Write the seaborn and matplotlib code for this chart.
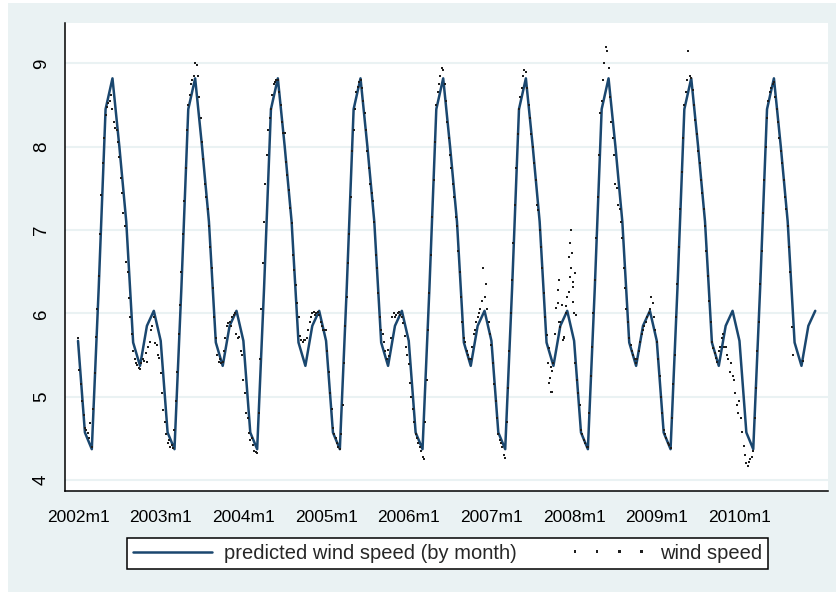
import numpy as np
import pandas as pd
import seaborn as sns
import matplotlib.pyplot as plt
from matplotlib.patches import Rectangle

# predicted wind speed, one value per calendar month (Jan..Dec)
pred_by_month = [5.67, 4.57, 4.37, 6.30, 8.45, 8.82, 8.00, 7.10, 5.65, 5.37, 5.85, 6.03]
years = [2002, 2003, 2004, 2005, 2006, 2007, 2008, 2009, 2010]
n_months = 108

# observed wind speed, 5 readings per month, Jan..Dec
wind_2002 = [5.70, 5.32, 5.15, 4.95, 4.78,  4.62, 4.60, 4.56, 4.50, 4.68,
             4.40, 4.85, 5.28, 5.72, 6.05,  6.45, 6.95, 7.42, 7.80, 8.10,
             8.38, 8.48, 8.52, 8.55, 8.62,  8.45, 8.30, 8.22, 8.20, 8.05,
             7.88, 7.62, 7.45, 7.20, 7.05,  6.62, 6.50, 6.18, 5.95, 5.75,
             5.55, 5.45, 5.40, 5.38, 5.35,  5.33, 5.40, 5.45, 5.43, 5.52,
             5.42, 5.60, 5.65, 5.80, 5.85,  5.95, 5.64, 5.62, 5.50, 5.46]
wind_2003 = [5.28, 5.05, 4.84, 4.70, 4.55,  4.45, 4.48, 4.40, 4.42, 4.38,
             4.60, 4.95, 5.30, 5.75, 6.10,  6.50, 6.95, 7.35, 7.75, 8.20,
             8.50, 8.62, 8.75, 8.80, 8.85,  9.00, 8.98, 8.85, 8.60, 8.35,
             8.05, 7.85, 7.55, 7.40, 7.25,  7.05, 6.80, 6.55, 6.30, 5.95,
             5.70, 5.50, 5.42, 5.45, 5.40,  5.42, 5.55, 5.70, 5.85, 5.88,
             5.90, 5.85, 5.95, 5.98, 6.00,  5.75, 5.70, 5.72, 5.55, 5.50]
wind_2004 = [5.20, 5.05, 4.80, 4.75, 4.56,  4.48, 4.50, 4.42, 4.35, 4.34,
             4.32, 4.80, 5.45, 6.05, 6.60,  7.10, 7.55, 7.90, 8.20, 8.35,
             8.45, 8.62, 8.75, 8.78, 8.80,  8.80, 8.65, 8.50, 8.30, 8.16,
             8.16, 7.82, 7.66, 7.48, 7.26,  7.08, 6.70, 6.52, 6.34, 6.12,
             5.96, 5.73, 5.68, 5.66, 5.68,  5.68, 5.70, 5.80, 5.90, 5.95,
             6.00, 6.02, 5.98, 6.00, 6.02,  5.98, 5.90, 5.85, 5.80, 5.80]
wind_2005 = [5.80, 5.55, 5.30, 5.05, 4.85,  4.62, 4.55, 4.50, 4.45, 4.40,
             4.37, 4.55, 4.90, 5.40, 5.85,  6.20, 6.60, 6.95, 7.40, 7.95,
             8.20, 8.45, 8.65, 8.72, 8.78,  8.80, 8.70, 8.55, 8.40, 8.20,
             7.95, 7.75, 7.55, 7.45, 7.35,  7.10, 6.70, 6.55, 6.25, 5.95,
             5.80, 5.75, 5.65, 5.55, 5.45,  5.56, 5.49, 5.71, 5.95, 6.00,
             5.95, 5.98, 6.00, 6.02, 5.98,  5.95, 5.88, 5.73, 5.60, 5.50]
wind_2006 = [5.39, 5.17, 5.00, 4.85, 4.70,  4.55, 4.50, 4.45, 4.40, 4.35,
             4.28, 4.25, 4.70, 5.20, 5.80,  6.25, 6.70, 7.15, 7.60, 8.05,
             8.50, 8.65, 8.75, 8.85, 8.95,  8.92, 8.75, 8.55, 8.30, 8.10,
             7.90, 7.75, 7.55, 7.40, 7.15,  7.05, 6.75, 6.50, 6.20, 5.90,
             5.70, 5.65, 5.55, 5.50, 5.45,  5.45, 5.60, 5.75, 5.80, 5.90,
             5.95, 6.00, 6.05, 6.15, 6.55,  6.20, 6.35, 6.05, 5.90, 5.75]
wind_2007 = [5.62, 5.40, 5.15, 4.95, 4.75,  4.55, 4.48, 4.45, 4.40, 4.30,
             4.27, 4.70, 5.10, 5.55, 6.00,  6.40, 6.85, 7.30, 7.75, 8.15,
             8.45, 8.60, 8.70, 8.85, 8.92,  8.90, 8.70, 8.50, 8.35, 8.15,
             8.00, 7.80, 7.60, 7.30, 7.24,  7.00, 6.80, 6.55, 6.25, 5.95,
             5.74, 5.40, 5.16, 5.36, 5.06,  5.40, 5.75, 6.06, 6.28, 5.90,
             5.90, 6.10, 5.68, 5.70, 6.00,  6.20, 6.68, 6.84, 7.00, 6.32]
wind_2008 = [6.00, 5.40, 5.20, 5.05, 4.90,  4.60, 4.55, 4.48, 4.45, 4.40,
             4.40, 4.80, 5.25, 5.60, 6.00,  6.40, 6.90, 7.40, 7.90, 8.40,
             8.55, 8.80, 9.00, 9.20, 9.15,  8.95, 8.60, 8.30, 8.10, 7.90,
             7.55, 7.50, 7.30, 7.25, 7.10,  6.90, 6.55, 6.30, 6.05, 5.90,
             5.70, 5.62, 5.55, 5.50, 5.45,  5.40, 5.45, 5.55, 5.65, 5.75,
             5.80, 5.85, 5.90, 5.95, 6.00,  6.05, 6.20, 6.12, 5.95, 5.80]
wind_2009 = [5.65, 5.45, 5.25, 5.00, 4.80,  4.60, 4.55, 4.50, 4.45, 4.42,
             4.38, 4.75, 5.15, 5.50, 5.95,  6.35, 6.80, 7.25, 7.70, 8.10,
             8.50, 8.65, 8.80, 9.15, 8.85,  8.82, 8.68, 8.50, 8.32, 8.15,
             7.95, 7.80, 7.60, 7.45, 7.25,  7.05, 6.75, 6.45, 6.15, 5.90,
             5.65, 5.58, 5.52, 5.47, 5.42,  5.55, 5.60, 5.70, 5.75, 5.60,
             5.60, 5.50, 5.45, 5.30, 5.40,  5.25, 5.20, 5.05, 4.90, 4.80]
wind_2010 = [4.95, 4.75, 4.58, 4.41, 4.30,  4.20, 4.17, 4.22, 4.25, 4.28,
             4.35, 4.75, 5.10, 5.55, 5.90,  6.35, 6.75, 7.20, 7.60, 8.00,
             8.35, 8.55, 8.65, 8.70, 8.75,  8.78, 8.60, 8.45, 8.30, 8.10,
             7.95, 7.80, 7.60, 7.40, 7.25,  7.05, 6.80, 6.50, 5.84, 5.50]

# extra readings (months since 2002m1): the noisy autumn 2007 and late 2010
extra_t = [68.3, 68.5, 68.7, 68.8, 69.6, 69.8, 70.0, 70.6, 70.8, 71.2, 71.4,
           71.5, 71.7, 71.8, 71.9, 72.1, 72.3, 105.2]
extra_v = [5.58, 5.22, 5.06, 5.31, 6.12, 6.40, 5.84, 5.72, 6.09, 6.26, 6.44,
           6.55, 6.72, 6.38, 6.14, 6.49, 5.98, 5.43]

wind = [wind_2002, wind_2003, wind_2004, wind_2005, wind_2006,
        wind_2007, wind_2008, wind_2009, wind_2010]

t_obs, v_obs = [], []
for k, vals in enumerate(wind):
    for i, v in enumerate(vals):
        t_obs.append(k * 12 + i / 5)
        v_obs.append(v)
t_obs += extra_t
v_obs += extra_v
df_obs = pd.DataFrame({'t': t_obs, 'wind': v_obs})

months = list(range(n_months))
df_pred = pd.DataFrame({'t': months,
                        'pred': [pred_by_month[m % 12] for m in months]})

sns.set_theme(style='white')
plt.rcParams['font.family'] = ['Liberation Sans', 'DejaVu Sans']

fig = plt.figure(figsize=(8.38, 5.92), dpi=100)
fig.patch.set_facecolor('white')
fig.patches.append(Rectangle((8 / 838, 0), 828 / 838, 589 / 592,
                             transform=fig.transFigure, facecolor='#eaf2f3',
                             edgecolor='none', zorder=-10))
ax = fig.add_axes([65 / 838, 1 - 491 / 592, 763 / 838, 468 / 592])
ax.set_facecolor('white')

sns.lineplot(data=df_pred, x='t', y='pred', color='#1a476f', lw=1.8,
             ax=ax, label='predicted wind speed (by month)', zorder=2)
sns.scatterplot(data=df_obs, x='t', y='wind', marker='s', s=2.5,
                color='#1e1e1e', linewidth=0, ax=ax, label='wind speed',
                zorder=3)

ax.set_xlim(-1.89, 108.85)
ax.set_ylim(3.868, 9.484)
ax.set_xticks(range(0, 97, 12))
ax.set_xticklabels([f'{y}m1' for y in years])
ax.set_yticks(range(4, 10))
ax.set_xlabel('')
ax.set_ylabel('')

ax.yaxis.grid(True, color='#eaf2f3', lw=1.5)
ax.set_axisbelow(True)
for side in ['top', 'right']:
    ax.spines[side].set_visible(False)
for side in ['left', 'bottom']:
    ax.spines[side].set_color('black')
    ax.spines[side].set_linewidth(1.1)

ax.tick_params(axis='both', colors='black', direction='out', width=1,
               labelsize=12.5)
ax.tick_params(axis='x', length=6, pad=8)
ax.tick_params(axis='y', length=5, pad=6, labelsize=13.5, labelrotation=90)
for lab in ax.get_yticklabels():
    lab.set_va('center')

handles, labels = ax.get_legend_handles_labels()
ax.legend(handles, labels, loc='center', bbox_to_anchor=(0.534, 0.0655),
          bbox_transform=fig.transFigure, ncol=2, fontsize=14.5,
          frameon=True, fancybox=False, edgecolor='black', framealpha=1,
          handlelength=3.9, handletextpad=0.6, columnspacing=2.6,
          scatterpoints=4, scatteryoffsets=[0.5], markerscale=1.1,
          borderpad=0.3)
ax.get_legend().get_frame().set_linewidth(1.1)

fig.savefig('out.png', dpi=100)
